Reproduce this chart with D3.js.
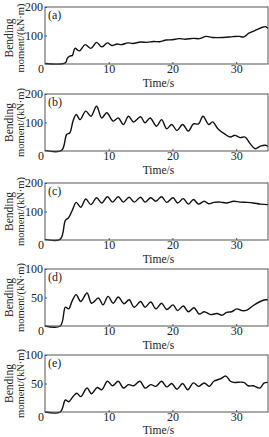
<!DOCTYPE html>
<html><head><meta charset="utf-8">
<script src="https://cdn.jsdelivr.net/npm/d3@7"></script>
<style>
html,body{margin:0;padding:0;background:#fff;}
svg{display:block;}
svg text{font-family:"Liberation Serif","Times New Roman",serif;}
</style></head>
<body>
<svg id="c" width="269" height="437"></svg>
<script>
// ---- data ----
const panelLabels = ["(a)", "(b)", "(c)", "(d)", "(e)"];
const yMax = [200, 200, 200, 100, 100];
const yTicks = [[100, 200], [100, 200], [100, 200], [50, 100], [50, 100]];
const xTicks = [10, 20, 30];
const xLabel = "Time/s";
const yLabel1 = "Bending";
const yLabel2 = "moment/(kN\u00B7m)";

const seriesA = [[0,2],[3.2,4],[3.5,20],[3.9,28],[4.3,30],[4.7,55],[5.4,46],[6.3,68],[7.2,55],[8.1,76],[8.9,60],[9.8,74],[10.5,65],[11.3,70],[12,68],[13,74],[13.8,72],[15,77],[16,76],[17,79],[18,78],[19,84],[20,85],[21,89],[22,87],[23.3,90],[24.2,89],[25.3,97],[26.3,93],[28,93],[29.5,96],[30.5,97],[31.2,95],[32,108],[33,118],[34,128],[34.6,131],[35,125]];
const seriesB = [[0,2],[2.6,2],[3.4,58],[3.9,64],[4.4,105],[4.9,128],[5.5,110],[6.4,140],[7.2,122],[8.1,157],[8.9,116],[9.7,134],[10.7,105],[11.5,116],[12.3,93],[13.1,122],[13.9,102],[15,120],[15.7,99],[16.5,116],[17.5,87],[18.3,110],[19.1,78],[19.9,93],[20.7,72],[21.6,93],[22.5,70],[23.3,95],[24.1,95],[24.8,122],[25.7,93],[26.3,102],[27.2,76],[28.3,58],[29.1,49],[29.8,55],[30.6,47],[31.4,49],[32.2,26],[33,8],[33.8,17],[34.6,20],[35,16]];
const seriesC = [[0,2],[2.4,3],[3.2,69],[3.7,78],[4.3,105],[4.9,132],[5.6,115],[6.4,144],[7.2,124],[8.1,148],[8.9,130],[9.8,152],[10.6,133],[11.5,152],[12.3,133],[13.2,150],[14,133],[15,150],[15.7,133],[16.6,148],[17.4,136],[18.3,152],[19.1,132],[20.1,148],[20.8,130],[21.7,145],[22.5,126],[23.3,142],[24.1,126],[25,136],[25.7,127],[26.5,132],[27.5,133],[28.5,130],[29.6,136],[30.6,133],[31.7,132],[32.7,130],[33.8,126],[35,124]];
const seriesD = [[0,0],[2.4,0],[3.2,33],[3.7,30],[4.3,45],[4.9,55],[5.6,43],[6.6,58],[7.3,40],[8.4,49],[9.1,37],[9.9,52],[10.7,40],[11.5,51],[12.4,39],[13.2,46],[14,33],[15,43],[15.7,33],[16.6,42],[17.4,30],[18.3,40],[19.1,29],[20.1,37],[20.8,27],[21.7,35],[22.5,25],[23.4,32],[24.2,21],[25,25],[26,20],[27,22],[27.8,19],[28.5,24],[29.3,25],[30.1,30],[30.9,27],[31.7,28],[32.7,36],[33.8,43],[34.6,46],[35,46]];
const seriesE = [[0,0],[2.4,0],[3.2,21],[3.7,18],[4.4,27],[5,33],[5.6,27],[6.6,42],[7.3,32],[8.2,43],[8.9,39],[9.8,54],[10.6,46],[11.5,54],[12.3,42],[13.1,48],[13.9,46],[14.9,54],[15.7,42],[16.6,48],[17.4,45],[18.3,54],[19.1,44],[19.9,50],[20.7,40],[21.6,50],[22.4,39],[23.3,51],[24.1,45],[25,51],[25.8,45],[26.5,54],[27.5,58],[28.4,63],[29.1,54],[29.6,52],[31.2,52],[31.9,46],[32.7,46],[33.7,42],[34.4,51],[35,52]];
const allSeries = [seriesA, seriesB, seriesC, seriesD, seriesE];

// ---- layout ----
const FONT = "Liberation Serif, Times New Roman, serif";
const svg = d3.select("#c");
const left = 45, right = 268;
const tops = [7, 94, 183, 269, 355];
const ph = 57;
const x = d3.scaleLinear().domain([0, 35]).range([left, right]);

allSeries.forEach((data, i) => {
  const top = tops[i], bottom = top + ph;
  const y = d3.scaleLinear().domain([0, yMax[i]]).range([bottom, top]);
  const g = svg.append("g");

  // line
  const line = d3.line().x(d => x(d[0])).y(d => y(d[1])).curve(d3.curveCatmullRom.alpha(0.5));
  g.append("path").datum(data).attr("d", line)
    .attr("fill", "none").attr("stroke", "#111").attr("stroke-width", 1.4).attr("stroke-linejoin", "round");

  // frame
  g.append("rect").attr("x", left).attr("y", top).attr("width", right - left).attr("height", ph)
    .attr("fill", "none").attr("stroke", "#555").attr("stroke-width", 1);

  // x ticks (inward)
  const xa = d3.axisBottom(x).tickValues(xTicks).tickSize(-2).tickFormat(d3.format("d"));
  const gx = g.append("g").attr("transform", `translate(0,${bottom})`).call(xa)
    .attr("font-family", FONT).attr("font-size", 12);
  gx.select(".domain").remove();
  gx.selectAll("line").attr("stroke", "#555");
  gx.selectAll("text").attr("fill", "#222").attr("dy", "0.5em").attr("y", 3);

  // y ticks (inward)
  const ya = d3.axisLeft(y).tickValues(yTicks[i]).tickSize(-2).tickFormat(d3.format("d"));
  const gy = g.append("g").attr("transform", `translate(${left},0)`).call(ya)
    .attr("font-family", FONT).attr("font-size", 12);
  gy.select(".domain").remove();
  gy.selectAll("line").attr("stroke", "#555");
  gy.selectAll("text").attr("fill", "#222").attr("x", -2);

  // shared zero
  g.append("text").attr("x", left - 1).attr("y", bottom + 9).attr("text-anchor", "end")
    .attr("font-size", 12).attr("fill", "#222").text(d3.format("d")(0));

  // panel label
  g.append("text").attr("x", left + 3).attr("y", top + 12).attr("font-size", 12).attr("fill", "#222").text(panelLabels[i]);

  // x label
  g.append("text").attr("x", (left + right) / 2 + 2).attr("y", Math.min(bottom + 23, 434)).attr("text-anchor", "middle")
    .attr("font-size", 11.5).attr("fill", "#222").text(xLabel);

  // y label (two lines)
  const cy = Math.max((top + bottom) / 2, 38);
  g.append("text").attr("transform", `translate(13,${cy}) rotate(-90)`).attr("text-anchor", "middle")
    .attr("font-size", 11.5).attr("fill", "#222").text(yLabel1);
  g.append("text").attr("transform", `translate(24,${cy}) rotate(-90)`).attr("text-anchor", "middle")
    .attr("font-size", 10.5).attr("fill", "#222").text(yLabel2);
});
</script>
</body></html>
